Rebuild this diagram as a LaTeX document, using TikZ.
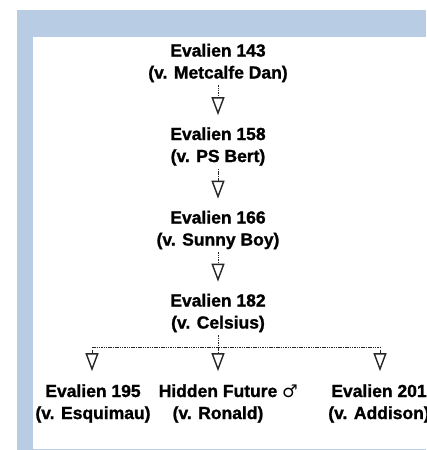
\documentclass[tikz,border=0pt]{standalone}
\usepackage{fontspec}
\setmainfont{Liberation Sans}[BoldFeatures={FakeBold=1.2}]
\newfontfamily\symfont{DejaVu Sans}
\usetikzlibrary{arrows.meta}
\definecolor{frameblue}{HTML}{B8CCE4}
\tikzset{
  lbl/.style={align=center, inner sep=0pt, font=\fontsize{17.5}{22}\selectfont\bfseries},
  conn/.style={line width=0.9pt, dash pattern=on 1.5pt off 0.8pt, draw=black!85},
  arr/.style={conn, -{Triangle[open,width=13pt,length=18pt,line width=1.4pt]}},
}
\begin{document}
\begin{tikzpicture}[x=1pt,y=-1pt]
\useasboundingbox (0,0) rectangle (426,450);
\fill[frameblue] (17,10) rectangle (426,450);
\fill[white] (33,37) rectangle (426,449);

\node[lbl] (n1) at (218,63) {Evalien 143\\(v. Metcalfe Dan)};
\node[lbl] (n2) at (218,146.5) {Evalien 158\\(v. PS Bert)};
\node[lbl] (n3) at (218,230) {Evalien 166\\(v. Sunny Boy)};
\node[lbl] (n4) at (218,313) {Evalien 182\\(v. Celsius)};
\node[lbl] (c1) at (93,403.5) {Evalien 195\\(v. Esquimau)};
\node[lbl] (c2) at (218,403.5) {Hidden Future\rlap{ {\symfont\mdseries ♂}}\\(v. Ronald)};
\node[lbl] (c3) at (379,403.5) {Evalien 201\\(v. Addison)};

\draw[arr, shorten <=3pt, shorten >=12pt] (n1.south) -- (n2.north);
\draw[arr, shorten <=3pt, shorten >=12pt] (n2.south) -- (n3.north);
\draw[arr, shorten <=3pt, shorten >=12pt] (n3.south) -- (n4.north);

\coordinate (hL) at (92,347);
\coordinate (hM) at (218,347);
\coordinate (hR) at (380,347);
\draw[conn, shorten <=3pt] (n4.south) -- (hM);
\draw[conn] (hL) -- (hR);
\draw[arr, shorten >=13pt] ([yshift=-3pt]hL) -- (hL |- c1.north);
\draw[arr, shorten >=13pt] (hM) -- (hM |- c2.north);
\draw[arr, shorten >=13pt] ([yshift=-3pt]hR) -- (hR |- c3.north);
\end{tikzpicture}
\end{document}
